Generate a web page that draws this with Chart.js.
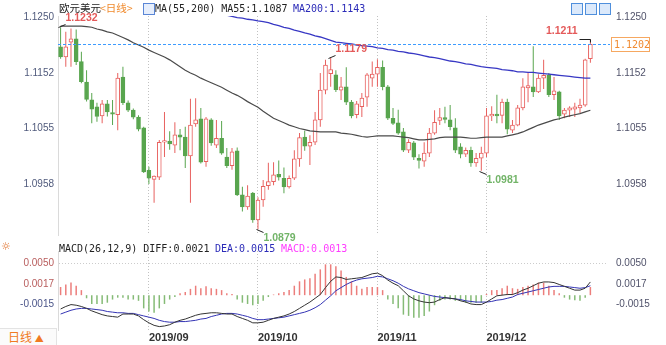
<!DOCTYPE html>
<html>
<head>
<meta charset="utf-8">
<script src="https://cdn.jsdelivr.net/npm/chart.js@4.4.1/dist/chart.umd.min.js"></script>
<style>
  body { margin: 0; width: 666px; height: 345px; position: relative; overflow: hidden; background: #fff; }
  canvas { position: absolute; left: 0; }
  #main { top: 0; }
  #macd { top: 236px; }
  .txt { position: absolute; white-space: pre; font: 10px "DejaVu Sans Mono", monospace; line-height: 12px; color: #222; }
  .cjk { font-family: "Noto Sans CJK SC", sans-serif; font-size: 10.5px; }
  .ico { position: absolute; width: 10px; height: 10px; border: 1px solid #5a86d6; background: #e6eefc; }
  .btn { position: absolute; top: 3px; width: 10px; height: 10px; border: 1px solid #4f8fdc; background: #dbe9fb; }
  #period { position: absolute; left: 0; top: 328px; width: 57px; height: 17px; box-sizing: border-box;
            border-top: 1px solid #e3e3e3; border-right: 1px solid #e3e3e3; background: #fbfbfb;
            font: 12px "Noto Sans CJK SC", sans-serif; color: #f07a22; line-height: 16px; padding-left: 8px; }
</style>
</head>
<body>
<canvas id="main" width="666" height="250"></canvas>
<canvas id="macd" width="666" height="109"></canvas>

<div class="txt cjk" style="left:59px;top:2px;">欧元美元</div>
<div class="txt cjk" style="left:100px;top:2px;color:#f08a2c;">&lt;日线&gt;</div>
<div class="ico" style="left:143px;top:3px;"></div>
<div class="txt" id="maText" style="left:155px;top:3px;"></div>
<div class="txt" id="ma200Text" style="left:293px;top:3px;color:#2b2bb8;"></div>
<div class="btn" style="left:571px;"></div>
<div class="btn" style="left:585px;"></div>
<div class="btn" style="left:599px;"></div>

<div class="txt" style="left:1px;top:240px;font:11px 'DejaVu Sans';color:#e0702a;">☼</div>
<div class="txt" id="diffText" style="left:59px;top:243px;"></div>
<div class="txt" id="deaText" style="left:215px;top:243px;color:#2b2bb8;"></div>
<div class="txt" id="macdText" style="left:281px;top:243px;color:#ff3cff;"></div>
<div id="period">日线 <span style="font-size:9px;">▲</span></div>

<script>
//
// EUR/USD daily candles with MA and MACD
//

// Candles
var opens = [1.1198,1.1180,1.1206,1.1212,1.1172,1.1136,1.1105,1.1093,1.1077,1.1098,
  1.1083,1.1079,1.1145,1.1100,1.1087,1.1075,1.1056,1.0982,1.0966,1.0970,
  1.1031,1.1033,1.1026,1.1044,1.1040,1.1007,1.1063,1.1072,1.0997,1.1070,
  1.1026,1.1038,1.1005,1.0990,1.1016,1.0939,1.0918,1.0942,1.0895,1.0930,
  1.0955,1.0962,1.0975,1.0968,1.0953,1.0968,1.1002,1.1040,1.1024,1.1031,
  1.1070,1.1122,1.1151,1.1149,1.1122,1.1128,1.1101,1.1079,1.1093,1.1110,
  1.1143,1.1150,1.1162,1.1128,1.1073,1.1065,1.1049,1.1017,1.1030,1.1003,
  1.0998,1.1012,1.1047,1.1069,1.1074,1.1070,1.1056,1.1023,1.1010,1.1017,
  1.0995,1.1003,1.1012,1.1077,1.1080,1.1078,1.1101,1.1052,1.1061,1.1091,
  1.1126,1.1128,1.1119,1.1143,1.1148,1.1114,1.1119,1.1080,1.1087,1.1089,
  1.1091,1.1096,1.1177];
var highs = [1.1232,1.1224,1.1230,1.1228,1.1189,1.1157,1.1117,1.1100,1.1105,1.1105,
  1.1105,1.1152,1.1163,1.1104,1.1090,1.1078,1.1058,1.0988,1.0973,1.1035,
  1.1084,1.1050,1.1066,1.1054,1.1058,1.1107,1.1108,1.1091,1.1075,1.1073,
  1.1070,1.1068,1.1021,1.1021,1.1022,1.0953,1.0956,1.0944,1.0935,1.0965,
  1.0995,1.0996,1.0999,1.0987,1.0973,1.1017,1.1047,1.1051,1.1043,1.1084,
  1.1152,1.1175,1.1179,1.1157,1.1145,1.1162,1.1105,1.1103,1.1117,1.1152,
  1.1172,1.1176,1.1174,1.1131,1.1091,1.1088,1.1056,1.1036,1.1033,1.1010,
  1.1031,1.1056,1.1087,1.1091,1.1093,1.1096,1.1073,1.1029,1.1022,1.1023,
  1.1012,1.1023,1.1091,1.1094,1.1114,1.1107,1.1107,1.1070,1.1096,1.1143,
  1.1152,1.1199,1.1150,1.1175,1.1152,1.1145,1.1121,1.1091,1.1094,1.1100,
  1.1107,1.1177,1.1211];
var lows = [1.1177,1.1163,1.1163,1.1166,1.1134,1.1102,1.1064,1.1067,1.1064,1.1076,
  1.1061,1.1052,1.1096,1.1084,1.1071,1.1050,1.0977,1.0958,1.0925,1.0965,
  1.1005,1.1018,1.1012,1.1017,1.0986,1.0925,1.1058,1.0994,1.0988,1.1025,
  1.1021,1.1009,1.0986,1.0983,1.0937,1.0910,1.0913,1.0890,1.0879,1.0918,
  1.0948,1.0956,1.0964,1.0942,1.0950,1.0965,1.0988,1.1016,1.0991,1.1026,
  1.1058,1.1115,1.1128,1.1119,1.1105,1.1096,1.1073,1.1073,1.1075,1.1093,
  1.1128,1.1128,1.1122,1.1070,1.1061,1.1044,1.1014,1.1012,1.1000,1.0985,
  1.0988,1.1005,1.1044,1.1061,1.1064,1.1052,1.1012,1.1003,1.1005,1.0988,
  1.0988,1.0981,1.1005,1.1068,1.1064,1.1064,1.1045,1.1047,1.1059,1.1087,
  1.1101,1.1110,1.1117,1.1124,1.1110,1.1105,1.1070,1.1073,1.1075,1.1075,
  1.1082,1.1093,1.1170];
var closes = [1.1180,1.1198,1.1212,1.1172,1.1137,1.1106,1.1089,1.1076,1.1098,1.1084,
  1.1080,1.1143,1.1100,1.1087,1.1075,1.1054,1.0979,1.0968,1.0972,1.1031,
  1.1034,1.1028,1.1044,1.1040,1.1007,1.1061,1.1070,1.0996,1.1072,1.1030,
  1.1038,1.1012,1.0990,1.1014,1.0939,1.0918,1.0937,1.0895,1.0930,1.0954,
  1.0962,1.0974,1.0970,1.0953,1.0968,1.1002,1.1039,1.1024,1.1031,1.1070,
  1.1122,1.1166,1.1158,1.1123,1.1128,1.1101,1.1077,1.1098,1.1108,1.1149,
  1.1150,1.1162,1.1128,1.1073,1.1064,1.1047,1.1017,1.1031,1.1005,1.0999,
  1.1012,1.1047,1.1066,1.1074,1.1071,1.1058,1.1017,1.1010,1.1017,1.0995,
  1.1003,1.1012,1.1077,1.1080,1.1077,1.1101,1.1054,1.1061,1.1091,1.1128,
  1.1130,1.1119,1.1143,1.1148,1.1114,1.1121,1.1077,1.1087,1.1091,1.1093,
  1.1096,1.1175,1.1202];

// Moving averages
var ma55 = [1.1234,1.1234,1.1234,1.1234,1.1234,1.1233,1.1232,1.1229,1.1227,1.1224,
  1.1222,1.1218,1.1214,1.1210,1.1205,1.1201,1.1197,1.1192,1.1188,1.1184,
  1.1180,1.1175,1.1169,1.1163,1.1157,1.1152,1.1148,1.1143,1.1139,1.1135,
  1.1131,1.1127,1.1122,1.1117,1.1113,1.1108,1.1102,1.1097,1.1092,1.1085,
  1.1079,1.1073,1.1069,1.1065,1.1061,1.1058,1.1055,1.1053,1.1051,1.1050,
  1.1049,1.1049,1.1049,1.1049,1.1047,1.1046,1.1045,1.1043,1.1041,1.1040,
  1.1041,1.1042,1.1042,1.1042,1.1042,1.1041,1.1040,1.1039,1.1037,1.1035,
  1.1035,1.1036,1.1037,1.1039,1.1040,1.1040,1.1040,1.1040,1.1039,1.1038,
  1.1038,1.1039,1.1040,1.1040,1.1040,1.1040,1.1042,1.1044,1.1046,1.1049,
  1.1053,1.1057,1.1061,1.1064,1.1067,1.1070,1.1072,1.1075,1.1077,1.1079,
  1.1081,1.1084,1.1087];
var ma200 = [null,null,null,null,null,null,null,null,null,null,
  null,null,null,null,null,null,null,null,null,null,
  null,null,null,null,null,null,null,null,null,null,
  null,null,1.1253,1.1251,1.1249,1.1248,1.1246,1.1245,1.1243,1.1242,
  1.1240,1.1237,1.1235,1.1232,1.1230,1.1227,1.1225,1.1222,1.1220,1.1217,
  1.1215,1.1212,1.1209,1.1206,1.1205,1.1204,1.1203,1.1201,1.1200,1.1199,
  1.1198,1.1196,1.1195,1.1193,1.1192,1.1190,1.1189,1.1187,1.1186,1.1184,
  1.1182,1.1180,1.1179,1.1177,1.1175,1.1173,1.1172,1.1170,1.1168,1.1167,
  1.1165,1.1163,1.1162,1.1161,1.1160,1.1158,1.1157,1.1156,1.1154,1.1154,
  1.1153,1.1153,1.1152,1.1151,1.1150,1.1149,1.1148,1.1147,1.1146,1.1145,
  1.1144,1.1143,1.1143];

// MACD(26,12,9)
var diff = [-0.0022,-0.0018,-0.0015,-0.0016,-0.0018,-0.0021,-0.0025,-0.0028,-0.0031,-0.0033,
  -0.0034,-0.0035,-0.0030,-0.0030,-0.0030,-0.0033,-0.0039,-0.0044,-0.0048,-0.0050,
  -0.0049,-0.0047,-0.0043,-0.0040,-0.0038,-0.0035,-0.0032,-0.0030,-0.0029,-0.0028,
  -0.0028,-0.0029,-0.0030,-0.0030,-0.0034,-0.0037,-0.0040,-0.0044,-0.0044,-0.0043,
  -0.0040,-0.0037,-0.0035,-0.0033,-0.0030,-0.0026,-0.0021,-0.0016,-0.0011,-0.0005,
  0.0001,0.0012,0.0022,0.0029,0.0028,0.0025,0.0026,0.0027,0.0028,0.0031,
  0.0034,0.0035,0.0031,0.0024,0.0019,0.0015,0.0007,-0.0001,-0.0006,-0.0009,
  -0.0011,-0.0012,-0.0011,-0.0007,-0.0004,-0.0005,-0.0006,-0.0009,-0.0011,-0.0014,
  -0.0015,-0.0015,-0.0011,-0.0006,-0.0001,0.0000,0.0001,0.0001,0.0004,0.0008,
  0.0011,0.0015,0.0019,0.0021,0.0021,0.0020,0.0017,0.0014,0.0011,0.0008,
  0.0008,0.0011,0.0021];
var dea = [-0.0030,-0.0027,-0.0024,-0.0022,-0.0021,-0.0021,-0.0022,-0.0023,-0.0024,-0.0026,
  -0.0027,-0.0028,-0.0028,-0.0029,-0.0029,-0.0031,-0.0033,-0.0035,-0.0037,-0.0040,
  -0.0042,-0.0043,-0.0043,-0.0042,-0.0042,-0.0041,-0.0040,-0.0038,-0.0037,-0.0034,
  -0.0032,-0.0030,-0.0029,-0.0029,-0.0030,-0.0032,-0.0034,-0.0037,-0.0039,-0.0039,
  -0.0038,-0.0037,-0.0036,-0.0035,-0.0033,-0.0031,-0.0029,-0.0027,-0.0024,-0.0020,
  -0.0015,-0.0008,-0.0001,0.0007,0.0012,0.0017,0.0021,0.0024,0.0026,0.0027,
  0.0028,0.0030,0.0029,0.0026,0.0023,0.0019,0.0014,0.0010,0.0007,0.0004,
  0.0002,0.0000,-0.0002,-0.0003,-0.0004,-0.0005,-0.0006,-0.0007,-0.0009,-0.0010,
  -0.0011,-0.0011,-0.0011,-0.0010,-0.0008,-0.0007,-0.0005,-0.0003,0.0001,0.0003,
  0.0005,0.0007,0.0009,0.0011,0.0013,0.0014,0.0014,0.0014,0.0013,0.0012,
  0.0011,0.0012,0.0015];
var macd = [0.0013,0.0017,0.0020,0.0015,0.0008,-0.0005,-0.0014,-0.0014,-0.0014,-0.0012,
  -0.0007,-0.0004,-0.0004,-0.0007,-0.0007,-0.0009,-0.0021,-0.0026,-0.0028,-0.0021,
  -0.0014,-0.0007,-0.0003,0.0003,0.0005,0.0010,0.0015,0.0011,0.0014,0.0011,
  0.0010,0.0008,0.0003,0.0002,-0.0007,-0.0012,-0.0014,-0.0016,-0.0014,-0.0009,
  -0.0003,0.0001,0.0003,0.0005,0.0008,0.0015,0.0022,0.0025,0.0027,0.0034,
  0.0041,0.0049,0.0049,0.0046,0.0039,0.0029,0.0022,0.0015,0.0010,0.0013,
  0.0013,0.0013,0.0008,-0.0007,-0.0014,-0.0021,-0.0031,-0.0033,-0.0036,-0.0036,
  -0.0033,-0.0026,-0.0016,-0.0009,-0.0007,-0.0007,-0.0009,-0.0009,-0.0012,-0.0012,
  -0.0012,-0.0012,0.0002,0.0008,0.0008,0.0011,0.0015,0.0011,0.0010,0.0013,
  0.0015,0.0017,0.0020,0.0020,0.0015,0.0008,0.0003,-0.0004,-0.0007,-0.0008,
  -0.0009,-0.0004,0.0013];

// Axis ticks and marked extremes
var monthStarts = [17, 38, 61, 82];
var monthLabels = ['2019/09', '2019/10', '2019/11', '2019/12'];
var priceTicks = [1.0958, 1.1055, 1.1152, 1.1250];
var macdTicks = [-0.0015, 0.0017, 0.0050];
var markHigh = [0, 52, 102];
var markLow = [38, 81];

var DailyChart = (function () {
  //
  // Variables
  //

  var RED = '#e8615f';
  var GREEN = '#58a54e';
  var last = closes.length - 1;

  Chart.defaults.font.family = '"Liberation Sans", Arial, sans-serif';
  Chart.defaults.font.size = 10;

  //
  // Methods
  //

  function xy(arr) {
    return arr.map(function (v, i) { return { x: i, y: v }; });
  }

  function setTicks(values) {
    return function (scale) {
      scale.ticks = values.map(function (v) { return { value: v }; });
    };
  }

  function setWidth(w) {
    return function (scale) { scale.width = w; };
  }

  function xAxis(showLabels) {
    return {
      type: 'linear', min: -0.5, max: 105.2, offset: false,
      afterBuildTicks: setTicks(monthStarts),
      afterFit: function (s) { s.height = showLabels ? 15 : 0; },
      ticks: {
        display: showLabels, autoSkip: false, maxRotation: 0, align: 'start', padding: 1,
        color: '#333', font: { size: 11, weight: 'bold' },
        callback: function (v) { return monthLabels[monthStarts.indexOf(v)]; }
      },
      grid: { color: '#c2c2c2', drawTicks: false, offset: false },
      border: { display: false, dash: [1, 2] }
    };
  }

  var up = closes.map(function (c, i) { return c >= opens[i]; });

  // Extremes and last price
  var marksPlugin = {
    id: 'marks',
    afterDatasetsDraw: function (chart) {
      var ctx = chart.ctx, area = chart.chartArea;
      var x = chart.scales.x, y = chart.scales.y;
      var py = Math.round(y.getPixelForValue(closes[last])) + 0.5;
      ctx.save();
      ctx.lineWidth = 1;
      ctx.strokeStyle = '#3d9bff';
      ctx.setLineDash([3, 2]);
      ctx.beginPath();
      ctx.moveTo(area.left, py);
      ctx.lineTo(area.right + 3, py);
      ctx.stroke();
      ctx.setLineDash([]);

      ctx.fillStyle = '#fff';
      ctx.fillRect(area.right + 4, py - 7, 39, 14);
      ctx.strokeStyle = '#f6a861';
      ctx.strokeRect(area.right + 4.5, py - 7, 38, 14);
      ctx.fillStyle = '#f08a30';
      ctx.font = '10px "DejaVu Sans Mono"';
      ctx.textBaseline = 'middle';
      ctx.textAlign = 'left';
      ctx.fillText(closes[last].toFixed(4), area.right + 7, py + 0.5);

      ctx.font = 'bold 10.5px "Liberation Sans"';
      ctx.strokeStyle = '#222';
      markHigh.forEach(function (i) {
        var px = Math.round(x.getPixelForValue(i)) + 0.5;
        var hy = Math.round(y.getPixelForValue(highs[i])) + 0.5;
        ctx.fillStyle = '#e45a5a';
        ctx.beginPath();
        if (px > area.right - 60) {
          ctx.moveTo(px - 11, hy);
          ctx.lineTo(px, hy);
          ctx.lineTo(px, hy + 3);
          ctx.stroke();
          ctx.textAlign = 'right';
          ctx.fillText(highs[i].toFixed(4), px - 13, hy - 8);
        } else {
          ctx.moveTo(px - 3, hy);
          ctx.lineTo(px + 4, hy - 3);
          ctx.stroke();
          ctx.textAlign = 'left';
          ctx.fillText(highs[i].toFixed(4), px + 4, hy - 9);
        }
      });
      markLow.forEach(function (i) {
        var px = Math.round(x.getPixelForValue(i)) + 0.5;
        var ly = Math.round(y.getPixelForValue(lows[i])) + 0.5;
        ctx.beginPath();
        ctx.moveTo(px - 2, ly);
        ctx.lineTo(px + 5, ly + 3);
        ctx.stroke();
        ctx.fillStyle = '#72b468';
        ctx.textAlign = 'left';
        ctx.fillText(lows[i].toFixed(4), px + 5, ly + 9);
      });
      ctx.restore();
    }
  };

  // Init price chart
  function initMain() {
    var yMax = 1.12517, yMin = 1.08688;
    new Chart(document.getElementById('main'), {
      type: 'bar',
      data: {
        datasets: [
          { type: 'line', label: 'MA55', data: xy(ma55), borderColor: '#4a4a4a', borderWidth: 1.2,
            pointRadius: 0, tension: 0, order: 0 },
          { type: 'line', label: 'MA200', data: xy(ma200), borderColor: '#3838c4', borderWidth: 1.3,
            pointRadius: 0, tension: 0, order: 0 },
          { label: 'body', data: opens.map(function (o, i) { return { x: i, y: [o, closes[i]] }; }),
            backgroundColor: up.map(function (u) { return u ? '#fff' : GREEN; }),
            borderColor: up.map(function (u) { return u ? RED : GREEN; }),
            borderWidth: 1, borderSkipped: false, barThickness: 4, minBarLength: 1,
            grouped: false, order: 1 },
          { label: 'wick', data: highs.map(function (h, i) { return { x: i, y: [lows[i], h] }; }),
            backgroundColor: up.map(function (u) { return u ? RED : GREEN; }),
            barThickness: 1, inflateAmount: 0, grouped: false, order: 2 }
        ]
      },
      options: {
        responsive: false, animation: false, devicePixelRatio: 1, events: [],
        layout: { padding: { top: 16, bottom: 15, left: 0, right: 0 } },
        plugins: { legend: { display: false }, tooltip: { enabled: false } },
        scales: {
          x: xAxis(false),
          y: {
            position: 'left', min: yMin, max: yMax,
            afterBuildTicks: setTicks(priceTicks), afterFit: setWidth(58),
            ticks: { padding: 4, color: '#505a7c', callback: function (v) { return v.toFixed(4); } },
            grid: { display: false, drawTicks: false },
            border: { display: true, color: '#dadada', dash: [1, 2] }
          },
          y2: {
            position: 'right', min: yMin, max: yMax,
            afterBuildTicks: setTicks(priceTicks), afterFit: setWidth(59),
            ticks: { padding: 9, color: '#50526a', callback: function (v) { return v.toFixed(4); } },
            grid: { display: false, drawTicks: false },
            border: { display: false }
          }
        }
      },
      plugins: [marksPlugin]
    });
  }

  // Init MACD chart
  function initMacd() {
    var yMax = 0.00702, yMin = -0.00554;
    new Chart(document.getElementById('macd'), {
      type: 'bar',
      data: {
        datasets: [
          { type: 'line', label: 'DIFF', data: xy(diff), borderColor: '#333', borderWidth: 1,
            pointRadius: 0, tension: 0, order: 0 },
          { type: 'line', label: 'DEA', data: xy(dea), borderColor: '#3434b4', borderWidth: 1,
            pointRadius: 0, tension: 0, order: 0 },
          { label: 'MACD', data: xy(macd),
            backgroundColor: macd.map(function (v) { return v >= 0 ? '#ec7e7c' : '#85bb76'; }),
            barThickness: 1.5, inflateAmount: 0, grouped: false, order: 1 }
        ]
      },
      options: {
        responsive: false, animation: false, devicePixelRatio: 1, events: [],
        layout: { padding: { top: 7, bottom: 0, left: 0, right: 0 } },
        plugins: { legend: { display: false }, tooltip: { enabled: false } },
        scales: {
          x: xAxis(true),
          y: {
            position: 'left', min: yMin, max: yMax,
            afterBuildTicks: setTicks(macdTicks), afterFit: setWidth(58),
            ticks: {
              padding: 4,
              color: function (c) { return c.tick && c.tick.value > 0 ? '#b85c5c' : '#4a5488'; },
              callback: function (v) { return v.toFixed(4); }
            },
            grid: {
              drawTicks: false,
              color: function (c) { return c.tick && c.tick.value === 0.0050 ? '#cccccc' : 'rgba(0,0,0,0)'; }
            },
            border: { display: true, color: '#dadada', dash: [1, 2] }
          },
          y2: {
            position: 'right', min: yMin, max: yMax,
            afterBuildTicks: setTicks(macdTicks), afterFit: setWidth(59),
            ticks: { padding: 9, color: '#50526a', callback: function (v) { return v.toFixed(4); } },
            grid: { display: false, drawTicks: false },
            border: { display: false }
          }
        }
      }
    });
  }

  // Header texts from the last values
  document.getElementById('maText').textContent = 'MA(55,200) MA55:' + ma55[last].toFixed(4);
  document.getElementById('ma200Text').textContent = 'MA200:' + ma200[last].toFixed(4);
  document.getElementById('diffText').textContent = 'MACD(26,12,9) DIFF:' + diff[last].toFixed(4);
  document.getElementById('deaText').textContent = 'DEA:' + dea[last].toFixed(4);
  document.getElementById('macdText').textContent = 'MACD:' + macd[last].toFixed(4);

  initMain();
  initMacd();
})();
</script>
</body>
</html>
